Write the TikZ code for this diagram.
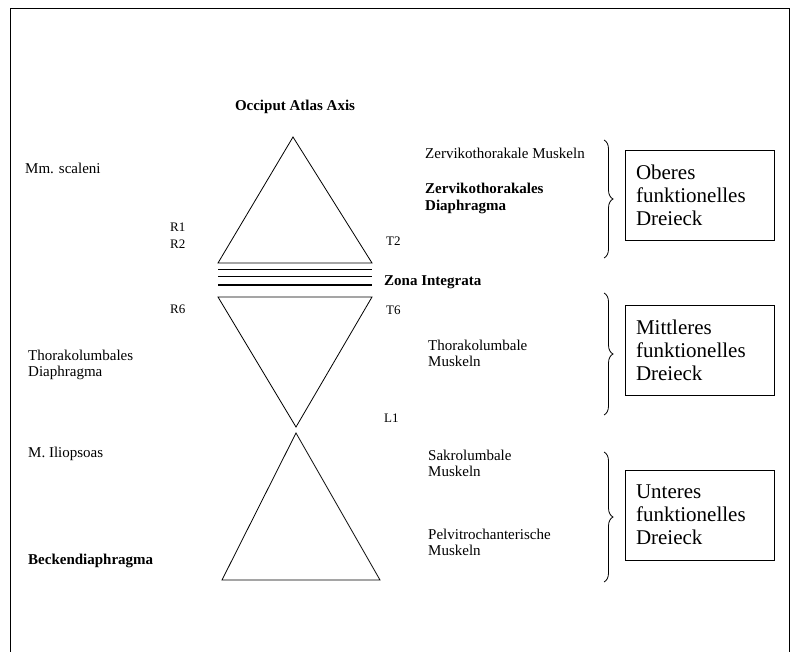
\documentclass[tikz,border=0pt]{standalone}
\usepackage{fontspec}
\setmainfont{Liberation Serif}
\usetikzlibrary{decorations.pathreplacing}

\tikzset{
	lbl/.style={anchor=west, font=\fontsize{15}{16}\selectfont, align=left, inner sep=0pt},
	klbl/.style={lbl, font=\fontsize{13}{14}\selectfont},
	blbl/.style={lbl, font=\fontsize{15}{17}\selectfont\bfseries},
	dreieck/.style={draw, thick, minimum width=149pt, minimum height=90pt, text width=128pt, align=left, font=\fontsize{21}{23}\selectfont, inner sep=0pt},
	klammer/.style={draw, thick, decorate, decoration={brace, amplitude=9pt}}
}

\begin{document}
\begin{tikzpicture}[x=1pt, y=-1pt]
	\useasboundingbox (0,0) rectangle (799,652);
	% Rahmen
	\draw[thick] (10,652) -- (10,8) -- (789,8) -- (789,652);
	
	% Dreiecke
	\draw[thick] (293,137) -- (372,263) -- (218,263) -- cycle;
	\draw[thick] (218,297) -- (372,297) -- (296,427) -- cycle;
	\draw[thick] (296,433) -- (380,580) -- (222,580) -- cycle;
	
	% Zona integrata
	\draw[thick] (218,269) -- (372,269);
	\draw[thick] (218,276) -- (372,276);
	\draw[line width=2pt] (218,285) -- (372,285);
	
	% linke Seite
	\node[blbl, anchor=center] (occ) at (295,107) {Occiput Atlas Axis};
	\node[lbl] (scal) at (25,168) {Mm. scaleni};
	\node[klbl] (r1) at (170,227) {R1};
	\node[klbl] (r2) at (170,244) {R2};
	\node[klbl] (r6) at (170,309) {R6};
	\node[lbl] (tld) at (28,365) {Thorakolumbales\\Diaphragma};
	\node[lbl] (psoas) at (28,454) {M. Iliopsoas};
	\node[blbl] (becken) at (28,561) {Beckendiaphragma};
	
	% rechte Seite
	\node[klbl] (t2) at (386,241) {T2};
	\node[blbl] (zona) at (384,282) {Zona Integrata};
	\node[klbl] (t6) at (386,310) {T6};
	\node[klbl] (l1) at (384,418) {L1};
	\node[lbl] (zm) at (425,153) {Zervikothorakale Muskeln};
	\node[blbl] (zd) at (425,198) {Zervikothorakales\\Diaphragma};
	\node[lbl] (tlm) at (428,353) {Thorakolumbale\\Muskeln};
	\node[lbl] (slm) at (428,463) {Sakrolumbale\\Muskeln};
	\node[lbl] (ptm) at (428,542) {Pelvitrochanterische\\Muskeln};
	
	% Klammern
	\coordinate (k1o) at (604,140);
	\coordinate (k1u) at (604,258);
	\coordinate (k2o) at (604,293);
	\coordinate (k2u) at (604,415);
	\coordinate (k3o) at (604,452);
	\coordinate (k3u) at (604,582);
	\draw[klammer] (k1o) -- (k1u);
	\draw[klammer] (k2o) -- (k2u);
	\draw[klammer] (k3o) -- (k3u);
	
	% Kaesten
	\node[dreieck] (ober) at (700,195) {Oberes\\funktionelles\\Dreieck};
	\node[dreieck] (mitte) at (700,350) {Mittleres\\funktionelles\\Dreieck};
	\node[dreieck] (unter) at (700,515) {Unteres\\funktionelles\\Dreieck};
\end{tikzpicture}
\end{document}
